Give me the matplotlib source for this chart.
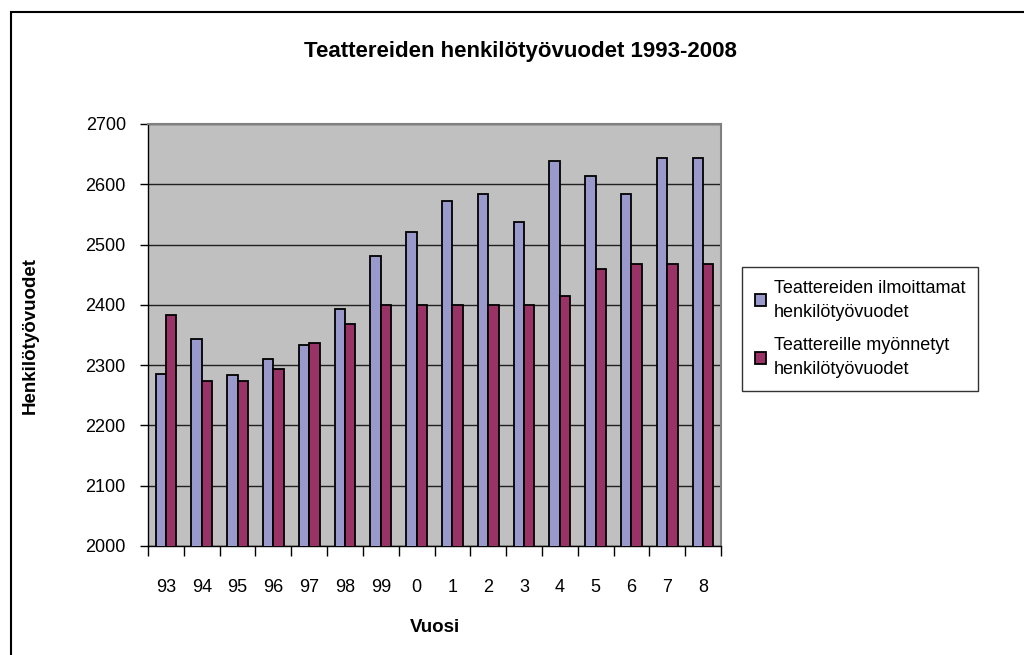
import numpy as np
import matplotlib.pyplot as plt
from matplotlib.patches import Rectangle

# Data
years = ['93', '94', '95', '96', '97', '98', '99', '0', '1', '2', '3', '4', '5', '6', '7', '8']
ilmoittamat = [2286, 2343, 2283, 2311, 2333, 2393, 2481, 2521, 2572, 2584, 2537, 2638, 2613, 2584, 2644, 2644]
myonnetyt = [2384, 2274, 2274, 2293, 2337, 2369, 2400, 2400, 2400, 2400, 2400, 2415, 2459, 2468, 2468, 2468]

label_a = 'Teattereiden ilmoittamat\nhenkilötyövuodet'
label_b = 'Teattereille myönnetyt\nhenkilötyövuodet'

plt.rcParams['font.family'] = ['Liberation Sans', 'DejaVu Sans']

fig = plt.figure(figsize=(10.24, 6.55), dpi=100)
ax = fig.add_axes([148 / 1024, 1 - 546 / 655, (721 - 148) / 1024, (546 - 124) / 655])
ax.set_facecolor('#C0C0C0')

x = np.arange(len(years))
w = 0.29
ax.bar(x - w / 2, ilmoittamat, w, color='#9999CC', edgecolor='black', linewidth=1.3,
       label=label_a, zorder=3)
ax.bar(x + w / 2, myonnetyt, w, color='#993366', edgecolor='black', linewidth=1.3,
       label=label_b, zorder=3)

ax.set_ylim(2000, 2700)
ax.set_xlim(-0.5, len(years) - 0.5)
ax.set_yticks(range(2000, 2701, 100))
ax.yaxis.grid(True, color='#202020', linewidth=1.0, zorder=1)
ax.set_axisbelow(True)

ax.set_xticks(x)
ax.set_xticklabels(years)
ax.set_xticks(np.arange(-0.5, len(years)), minor=True)
ax.tick_params(axis='x', which='major', length=0, pad=24, labelsize=13)
ax.tick_params(axis='x', which='minor', length=7, width=1, direction='out', color='black')
ax.tick_params(axis='y', length=6, width=1, direction='out', pad=10, labelsize=13)

for s in ['top', 'right']:
    ax.spines[s].set_color('#808080')
    ax.spines[s].set_linewidth(1.5)
for s in ['left', 'bottom']:
    ax.spines[s].set_color('black')
    ax.spines[s].set_linewidth(1.0)

fig.text(520 / 1024, 1 - 52 / 655, 'Teattereiden henkilötyövuodet 1993-2008',
         ha='center', va='center', fontsize=16, fontweight='bold')
fig.text(30 / 1024, 1 - 335 / 655, 'Henkilötyövuodet', rotation=90,
         ha='center', va='center', fontsize=13.5, fontweight='bold')
fig.text(435 / 1024, 1 - 627 / 655, 'Vuosi', ha='center', va='center',
         fontsize=13.5, fontweight='bold')

leg = ax.legend(loc='upper left', bbox_to_anchor=(742 / 1024, 1 - 267 / 655),
                bbox_transform=fig.transFigure, frameon=True, fancybox=False,
                fontsize=13, handlelength=0.65, handleheight=0.65, handletextpad=0.4,
                labelspacing=0.9, borderpad=0.7, borderaxespad=0)
for t in leg.get_texts():
    t.set_linespacing(1.55)
leg.get_frame().set_edgecolor('black')
leg.get_frame().set_linewidth(1.0)

# outer chart border (only left and top visible in the reference)
fig.patches.append(Rectangle((11 / 1024, -0.2), 1.2, 1.2 - 12 / 655, transform=fig.transFigure,
                             fill=False, edgecolor='black', linewidth=1.5, zorder=0))

fig.savefig('out.png', dpi=100)
